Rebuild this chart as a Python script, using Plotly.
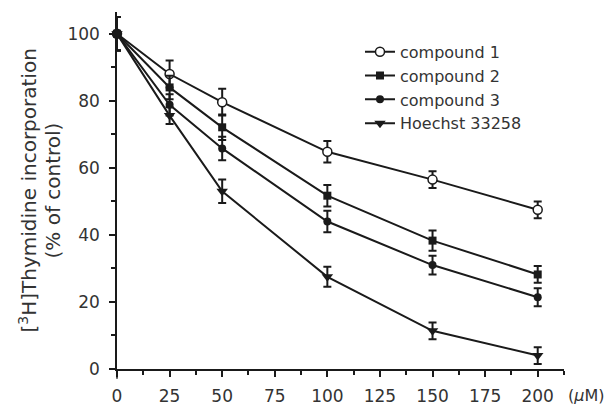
import plotly.graph_objects as go

conc = [0, 25, 50, 100, 150, 200]
series_names = ["compound 1", "compound 2", "compound 3", "Hoechst 33258"]
c1 = [100, 88, 79.6, 64.8, 56.5, 47.5]
c1_err = [5, 4, 4, 3.2, 2.5, 2.5]
c2 = [100, 84, 72.1, 51.7, 38.3, 28.2]
c2_err = [5, 3.5, 3.8, 3.2, 3.0, 2.5]
c3 = [100, 78.8, 65.8, 44, 31, 21.4]
c3_err = [5, 3.2, 3.5, 3.2, 2.8, 2.7]
h = [100, 75.6, 53, 27.5, 11.4, 4]
h_err = [5, 2.5, 3.5, 3.0, 2.5, 2.5]

x_ticks = [0, 25, 50, 75, 100, 125, 150, 175, 200]
y_ticks = [0, 20, 40, 60, 80, 100]

INK = "#1a1a1a"
TXT = "#333333"
FONT = "DejaVu Sans"

fig = go.Figure()
specs = [
    (series_names[0], c1, c1_err, dict(symbol="circle", size=9, color="white", line=dict(width=1.5, color=INK))),
    (series_names[1], c2, c2_err, dict(symbol="square", size=8, color=INK)),
    (series_names[2], c3, c3_err, dict(symbol="circle", size=8, color=INK)),
    (series_names[3], h, h_err, dict(symbol="triangle-down", size=10, color=INK)),
]
for name, vals, errs, marker in specs:
    fig.add_trace(go.Scatter(
        x=conc, y=vals, name=name, mode="lines+markers",
        line=dict(color=INK, width=2),
        marker=marker,
        error_y=dict(type="data", array=errs, visible=True, color=INK, thickness=2, width=4),
        cliponaxis=False,
    ))

fig.update_layout(
    width=614, height=407,
    margin=dict(l=109, r=58, t=4, b=46),
    paper_bgcolor="white", plot_bgcolor="white",
    font=dict(family=FONT, size=17, color=TXT),
    showlegend=True,
    legend=dict(x=0.5436, y=0.936, xanchor="left", yanchor="top",
                bgcolor="rgba(0,0,0,0)", font=dict(size=16, color=TXT),
                itemwidth=30, tracegroupgap=0),
)
fig.update_xaxes(
    range=[0, 212.5], tickvals=x_ticks, ticks="outside", ticklen=6, tickwidth=1.5,
    tickcolor=INK, showline=True, linecolor=INK, linewidth=1.5, showgrid=False, zeroline=False,
    minor=dict(dtick=12.5, tick0=0, ticks="outside", ticklen=4, tickwidth=1.5, tickcolor=INK, showgrid=False),
    tickfont=dict(size=17, color=TXT), ticklabelstandoff=5, automargin=False,
)
fig.update_yaxes(
    range=[0, 106.5], tickvals=y_ticks, ticks="outside", ticklen=6, tickwidth=1.5,
    tickcolor=INK, showline=True, linecolor=INK, linewidth=1.5, showgrid=False, zeroline=False,
    minor=dict(dtick=10, tick0=0, ticks="outside", ticklen=4, tickwidth=1.5, tickcolor=INK, showgrid=False),
    tickfont=dict(size=17, color=TXT), ticklabelstandoff=6, automargin=False,
)
# y-axis line extension below the x axis
fig.add_shape(type="line", xref="paper", yref="paper", x0=0, x1=0, y0=0, y1=-0.027,
              line=dict(color=INK, width=1.5))
# y-axis title (two lines)
fig.add_annotation(x=-0.2013, y=0.5, xref="paper", yref="paper", text="[<sup>3</sup>H]Thymidine incorporation",
                   showarrow=False, textangle=-90, font=dict(size=20, color=TXT),
                   xanchor="center", yanchor="middle")
fig.add_annotation(x=-0.1454, y=0.5, xref="paper", yref="paper", text="(% of control)",
                   showarrow=False, textangle=-90, font=dict(size=20, color=TXT),
                   xanchor="center", yanchor="middle")
# unit label to the right of the x tick labels
fig.add_annotation(x=1.005, y=0, xref="paper", yref="paper", text="(<i>μ</i>M)",
                   showarrow=False, font=dict(size=16, color=TXT),
                   xanchor="left", yanchor="middle", yshift=-26)
fig.write_html("out.html")
